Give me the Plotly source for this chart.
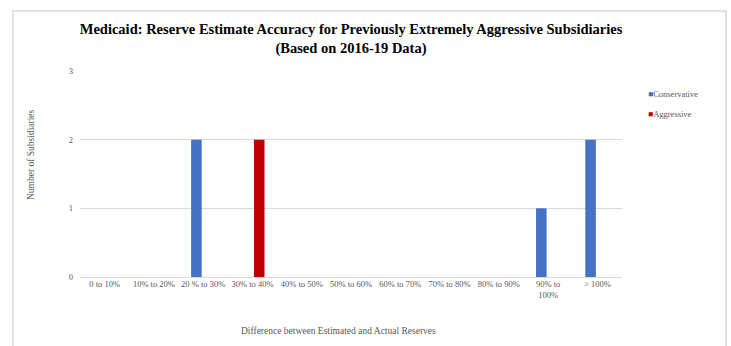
import plotly.graph_objects as go

# Accuracy buckets (difference between estimated and actual reserves)
categories = [
    "0 to 10%", "10% to 20%", "20 % to 30%", "30% to 40%", "40% to 50%",
    "50% to 60%", "60% to 70%", "70% to 80%", "80% to 90%", "90% to<br>100%",
    "> 100%",
]
conservative = [0, 0, 2, 0, 0, 0, 0, 0, 0, 1, 2]
aggressive = [0, 0, 0, 2, 0, 0, 0, 0, 0, 0, 0]
series_names = ["Conservative", "Aggressive"]
series_colors = ["#4472C4", "#C00000"]
y_ticks = [0, 1, 2, 3]

W, H = 731, 346
L, R, T, B = 80, 109, 71, 69
plot_w = W - L - R
plot_h = H - T - B

FONT = "Liberation Serif, Times New Roman, serif"
GREY = "#595959"


def px_x(px):
    return (px - L) / plot_w


def px_y(py):
    return (H - B - py) / plot_h


fig = go.Figure()
for name, vals, col in zip(series_names, [conservative, aggressive], series_colors):
    fig.add_trace(go.Bar(
        x=categories, y=vals, name=name, marker_color=col,
        marker_line_width=0, showlegend=False,
    ))

# outer chart frame
fig.add_shape(type="rect", xref="paper", yref="paper",
              x0=px_x(13), x1=px_x(726), y0=px_y(352), y1=px_y(11),
              line=dict(color="#d9d9d9", width=1.5), layer="below")

# legend entries
for i, (name, col) in enumerate(zip(series_names, series_colors)):
    fig.add_annotation(
        xref="paper", yref="paper", x=px_x(646), y=px_y(94 + 20 * i),
        xanchor="left", yanchor="middle", showarrow=False,
        text=f"<span style='color:{col}'>■</span>{name}",
        font=dict(family=FONT, size=8.5, color=GREY),
    )

# axis titles
fig.add_annotation(
    xref="paper", yref="paper", x=px_x(31), y=px_y(155),
    textangle=-90, showarrow=False, xanchor="center", yanchor="middle",
    text="Number of Subsidiaries", font=dict(family=FONT, size=9.5, color=GREY),
)
fig.add_annotation(
    xref="paper", yref="paper", x=px_x(338), y=px_y(331),
    showarrow=False, xanchor="center", yanchor="middle",
    text="Difference between Estimated and Actual Reserves",
    font=dict(family=FONT, size=9.5, color=GREY),
)

fig.update_layout(
    width=W, height=H, autosize=False,
    margin=dict(l=L, r=R, t=T, b=B, pad=0),
    paper_bgcolor="white", plot_bgcolor="white",
    barmode="group", bargap=0.45, bargroupgap=0.22,
    title=dict(
        text="<b>Medicaid: Reserve Estimate Accuracy for Previously Extremely Aggressive Subsidiaries<br>(Based on 2016-19 Data)</b>",
        x=0.5, xref="paper", xanchor="center",
        y=1 - 34 / H, yref="container", yanchor="middle",
        font=dict(family=FONT, size=14.5, color="black"),
    ),
    xaxis=dict(
        type="category", tickangle=0, showgrid=False, showline=False,
        zeroline=False, ticks="",
        tickfont=dict(family=FONT, size=8.5, color=GREY),
    ),
    yaxis=dict(
        range=[0, 3], tickvals=y_ticks, showgrid=True, gridcolor="#d9d9d9",
        gridwidth=1, zeroline=True, zerolinecolor="#d9d9d9", zerolinewidth=1,
        showline=False, ticks="", ticklabelstandoff=6,
        tickfont=dict(family=FONT, size=8.5, color=GREY),
    ),
)

fig.write_html("out.html")
